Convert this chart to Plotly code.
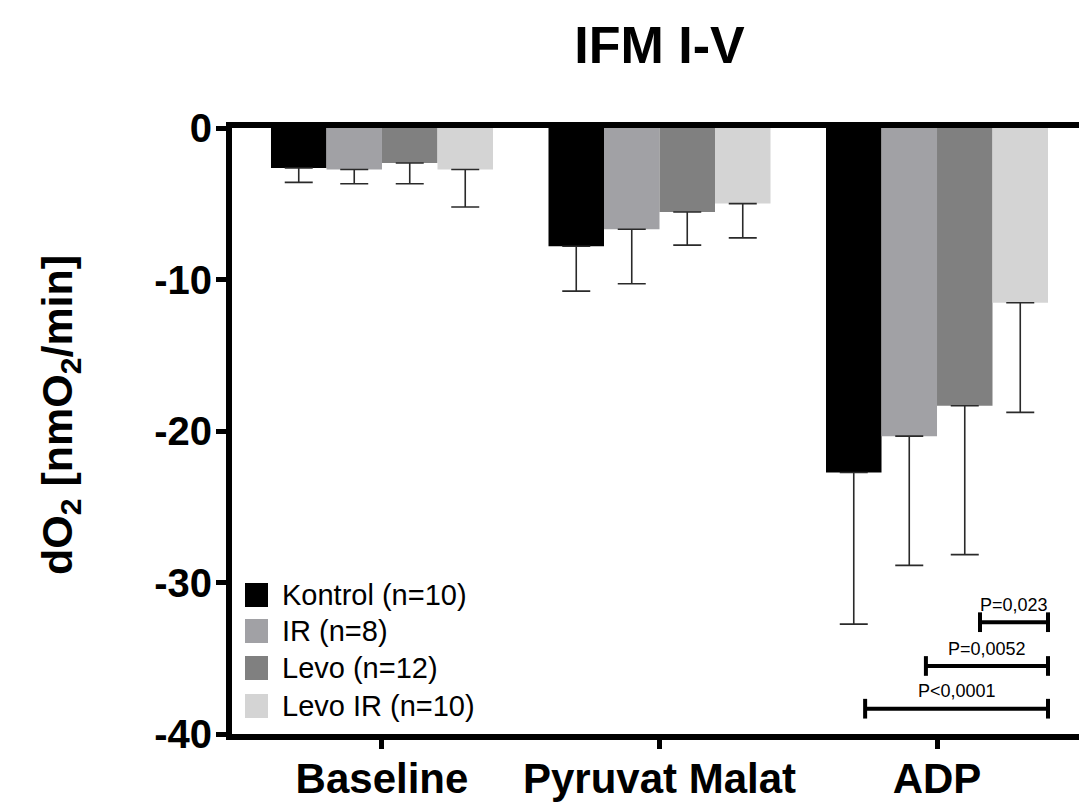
import plotly.graph_objects as go

# ---------------- data ----------------
categories = ["Baseline", "Pyruvat Malat", "ADP"]
series_names = ["Kontrol (n=10)", "IR (n=8)", "Levo (n=12)", "Levo IR (n=10)"]
series_colors = ["#000000", "#a1a1a5", "#808080", "#d4d4d4"]

kontrol = [-2.64, -7.81, -22.74]
kontrol_sd = [0.95, 2.96, 10.01]
ir = [-2.74, -6.68, -20.34]
ir_sd = [0.94, 3.60, 8.53]
levo = [-2.31, -5.54, -18.33]
levo_sd = [1.37, 2.19, 9.83]
levo_ir = [-2.74, -4.99, -11.53]
levo_ir_sd = [2.47, 2.26, 7.24]

values = [kontrol, ir, levo, levo_ir]
errors = [kontrol_sd, ir_sd, levo_sd, levo_ir_sd]

y_ticks = [0, -10, -20, -30, -40]
y_tick_labels = ["0", "-10", "-20", "-30", "-40"]

# significance brackets (ADP group): start x, end x, level, label
bracket_x0 = [2.155, 1.960, 1.741]
bracket_x1 = [2.400, 2.400, 2.400]
bracket_y = [-32.62, -35.51, -38.33]
bracket_labels = ["P=0,023", "P=0,0052", "P<0,0001"]

# ---------------- layout geometry ----------------
OFF = 8                      # page body margin
W, H = 1087 - OFF, 804 - OFF
L, T = 232 - OFF, 128 - OFF  # plot area left / top in figure px
R, B = 0, 804 - 734          # plot area right / bottom margins
PW, PH = W - L - R, H - T - B


def px_x(sx):
    """screen x -> paper x"""
    return (sx - OFF - L) / PW


def px_y(sy):
    """screen y -> paper y"""
    return (T + PH - (sy - OFF)) / PH


FONT = "Liberation Sans, Arial, Helvetica, sans-serif"

fig = go.Figure()
for name, color, vals, errs in zip(series_names, series_colors, values, errors):
    fig.add_trace(go.Bar(
        x=categories,
        y=vals,
        name=name,
        marker=dict(color=color, line=dict(width=0)),
        error_y=dict(type="data", symmetric=False, array=[0] * len(errs),
                     arrayminus=errs, color="#2a2a2a", thickness=1.6, width=14),
        showlegend=False,
    ))

shapes = []
annotations = []

# brackets
for x0, x1, yv, lab in zip(bracket_x0, bracket_x1, bracket_y, bracket_labels):
    shapes.append(dict(type="line", xref="x", yref="y", x0=x0, x1=x1, y0=yv, y1=yv,
                       line=dict(color="black", width=4)))
    for xe in (x0, x1):
        shapes.append(dict(type="line", xref="x", yref="y", x0=xe, x1=xe,
                           y0=yv - 0.65, y1=yv + 0.65, line=dict(color="black", width=4)))
    annotations.append(dict(x=(x0 + x1) / 2, y=yv + 0.35, xref="x", yref="y",
                            text=lab, showarrow=False, yanchor="bottom",
                            font=dict(family=FONT, size=18, color="black")))

# custom legend
row_centers = [595, 631, 668, 706]
for name, color, cy in zip(series_names, series_colors, row_centers):
    shapes.append(dict(type="rect", xref="paper", yref="paper",
                       x0=px_x(245), x1=px_x(268), y0=px_y(cy + 12), y1=px_y(cy - 12),
                       fillcolor=color, line=dict(width=0)))
    annotations.append(dict(x=px_x(280), y=px_y(cy), xref="paper", yref="paper",
                            text=name, showarrow=False, xanchor="left", yanchor="middle",
                            font=dict(family=FONT, size=29, color="black")))

# y-axis title
annotations.append(dict(x=px_x(60), y=px_y(415), xref="paper", yref="paper",
                        text="dO<sub>2</sub> [nmO<sub>2</sub>/min]", textangle=-90,
                        showarrow=False, xanchor="center", yanchor="middle",
                        font=dict(family=FONT, size=43, color="black", weight="bold")))

fig.update_layout(
    width=W, height=H,
    margin=dict(l=L, r=R, t=T, b=B, pad=0),
    paper_bgcolor="white", plot_bgcolor="white",
    barmode="group", bargap=0.2, bargroupgap=0,
    title=dict(text="IFM I-V", x=0.5, xref="paper", xanchor="center",
               y=1 - (45 - OFF) / H, yref="container", yanchor="middle",
               font=dict(family=FONT, size=52, color="black", weight="bold")),
    xaxis=dict(range=[-0.5405, 2.5405], showline=True, linecolor="black", linewidth=6,
               mirror=True, ticks="outside", ticklen=9, tickwidth=5, tickcolor="black",
               showgrid=False, zeroline=False, ticklabelstandoff=-6,
               tickfont=dict(family=FONT, size=42, color="black", weight="bold")),
    yaxis=dict(range=[-40, 0], tickvals=y_ticks, ticktext=y_tick_labels, showline=True,
               linecolor="black", linewidth=6, ticks="outside", ticklen=10, tickwidth=5,
               tickcolor="black", showgrid=False, zeroline=False, ticklabelstandoff=-4,
               tickfont=dict(family=FONT, size=40, color="black", weight="bold")),
    shapes=shapes,
    annotations=annotations,
    showlegend=False,
)

fig.write_html("out.html")
